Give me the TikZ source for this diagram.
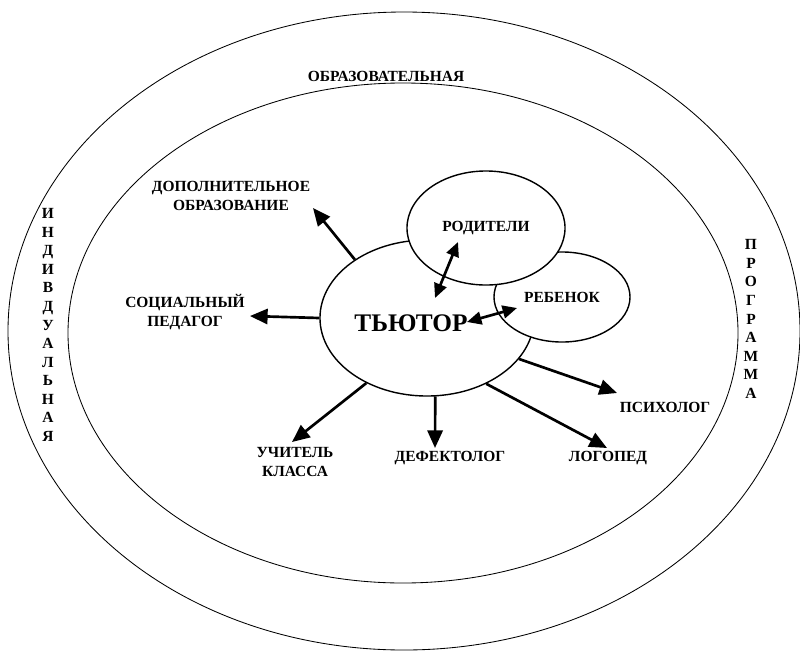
\documentclass[tikz,border=0pt]{standalone}
\usepackage{fontspec}
\setmainfont{Liberation Serif}[BoldFont={Liberation Serif Bold}]
\newfontfamily\labelfont{Liberation Serif Bold}
\usetikzlibrary{shapes.geometric,arrows.meta}

\tikzset{
  lbl/.style={font=\labelfont\fontsize{11}{13.5}\selectfont, align=center, inner sep=0pt},
  column/.style={font=\labelfont\fontsize{11}{13.2}\selectfont, align=center, inner sep=0pt},
  ring/.style={draw, line width=0.6pt},
  bubble/.style={ellipse, draw, fill=white, line width=1pt, inner sep=0pt, font=\labelfont\fontsize{11}{13}\selectfont},
  link/.style={line width=1.9pt, -{Triangle[length=4.4mm,width=3.8mm]}},
  twoway/.style={line width=1.9pt, {Triangle[length=3.6mm,width=3.2mm]}-{Triangle[length=3.6mm,width=3.2mm]}},
}

\begin{document}
\begin{tikzpicture}[x=0.025cm,y=-0.025cm]
    \useasboundingbox (0,0) rectangle (800,651);

    % the two big rings
    \draw[ring] (404,331) ellipse (396 and 319);
    \draw[ring] (403,333) ellipse (335 and 250);

    % words written along the rings
    \node[lbl] (obraz) at (386,76) {ОБРАЗОВАТЕЛЬНАЯ};
    \node[column] (indiv) at (48,325) {И\\Н\\Д\\И\\В\\Д\\У\\А\\Л\\Ь\\Н\\А\\Я};
    \node[column] (progr) at (751,319) {П\\Р\\О\\Г\\Р\\А\\М\\М\\А};

    % the centre and the two bubbles on it
    \node[bubble, minimum width=5.35cm, minimum height=3.9cm] (tutor) at (427,318) {};
    \node[bubble, minimum width=3.4cm, minimum height=2.25cm] (child) at (562,297) {РЕБЕНОК};
    \node[bubble, minimum width=3.95cm, minimum height=2.85cm] (parents) at (486,228) {РОДИТЕЛИ};
    \node[font=\labelfont\fontsize{18}{20}\selectfont, inner sep=0pt] (tutortext) at (411,323) {ТЬЮТОР};

    % two-way links
    \coordinate (parA) at (458,242);
    \coordinate (parB) at (435,298);
    \coordinate (chA) at (467,322);
    \coordinate (chB) at (517,308);
    \draw[twoway] (parB) -- (parA);
    \draw[twoway] (chA) -- (chB);

    % the specialists round the tutor
    \node[lbl] (dop) at (231,196) {ДОПОЛНИТЕЛЬНОЕ\\ОБРАЗОВАНИЕ};
    \node[lbl] (soc) at (185,312) {СОЦИАЛЬНЫЙ\\ПЕДАГОГ};
    \node[lbl] (teacher) at (295,462) {УЧИТЕЛЬ\\КЛАССА};
    \node[lbl] (defect) at (450,458) {ДЕФЕКТОЛОГ};
    \node[lbl] (logo) at (608,458) {ЛОГОПЕД};
    \node[lbl] (psych) at (665,407) {ПСИХОЛОГ};

    \coordinate (dopTip) at (313,208);
    \coordinate (socTip) at (250,316);
    \coordinate (teacherTip) at (292,442);
    \coordinate (defectTip) at (435,448);
    \coordinate (logoTip) at (607,448);
    \coordinate (psychTip) at (617,393);

    \draw[link] (tutor.141) -- (dopTip);
    \draw[link] (tutor.180) -- (socTip);
    \draw[link] (tutor.-133) -- (teacherTip);
    \draw[link] (tutor.-84) -- (defectTip);
    \draw[link] (tutor.-48) -- (logoTip);
    \draw[link] (tutor.-24) -- (psychTip);
\end{tikzpicture}
\end{document}
